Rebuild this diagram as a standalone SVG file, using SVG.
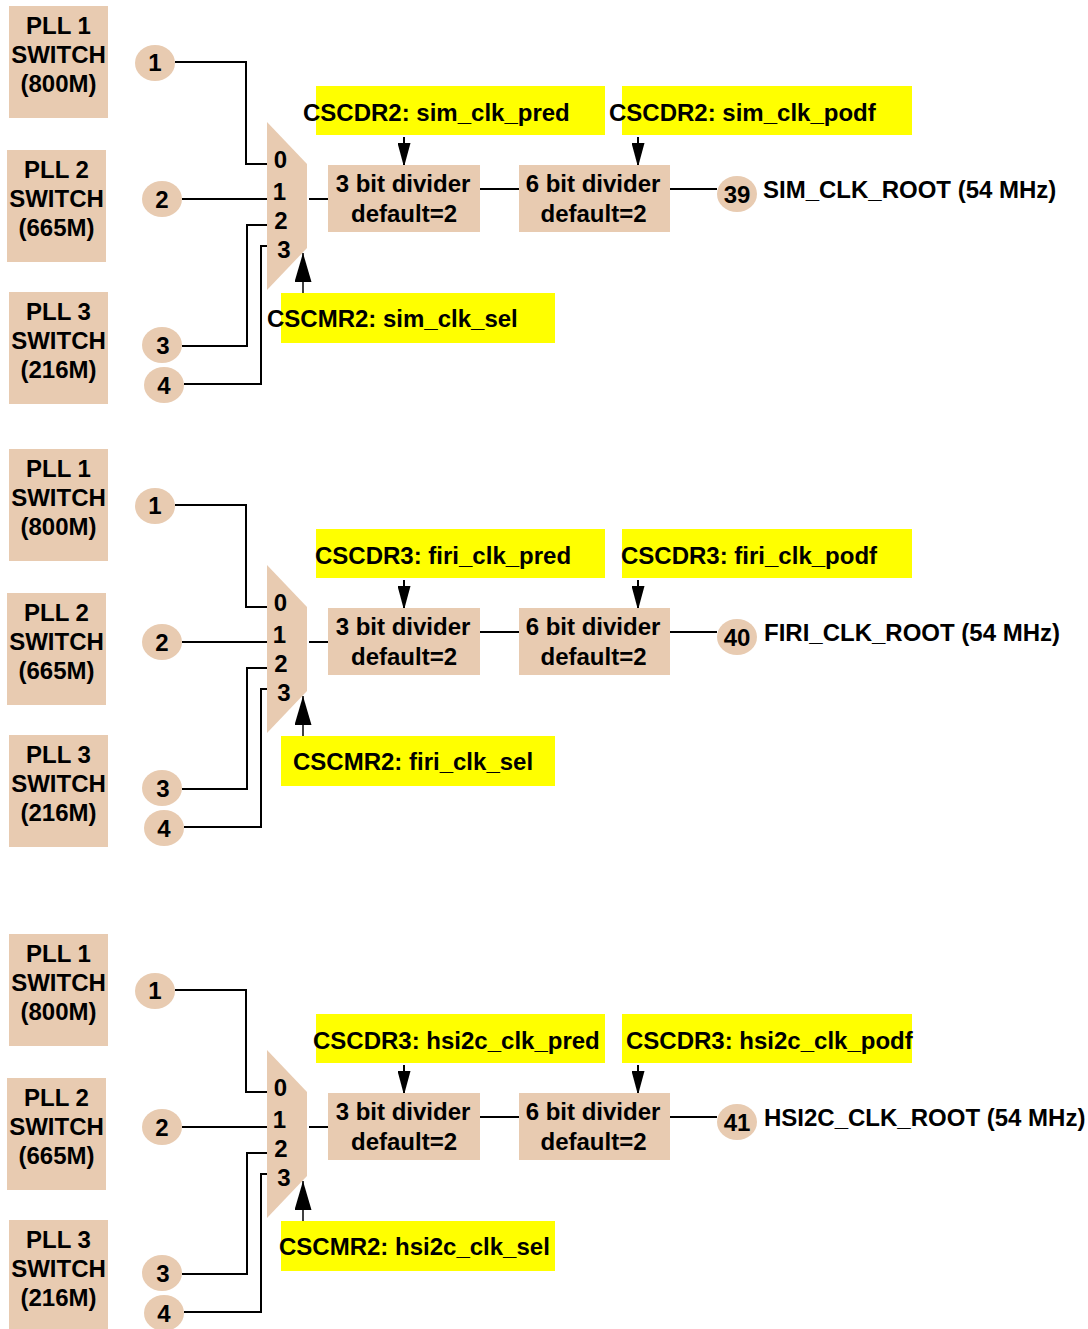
<svg xmlns="http://www.w3.org/2000/svg" width="1088" height="1329" viewBox="0 0 1088 1329">
<style>
.box{fill:#E8CBB1}
.hl{fill:#FFFF00}
text{font-family:"Liberation Sans",Arial,Helvetica,sans-serif;font-weight:bold;font-size:24px;fill:#000}
.c{text-anchor:middle}
.w{fill:none;stroke:#000;stroke-width:2}
.t{fill:none;stroke:#000;stroke-width:1.5}
</style>
<defs>
<marker id="ah" markerUnits="userSpaceOnUse" viewBox="0 0 24 13" refX="24" refY="6.5" markerWidth="24" markerHeight="13" orient="auto"><path d="M0,0 L24,6.5 L0,13 z" fill="#000"/></marker>
<marker id="ahL" markerUnits="userSpaceOnUse" viewBox="0 0 29 17" refX="29" refY="8.5" markerWidth="29" markerHeight="17" orient="auto"><path d="M0,0 L29,8.5 L0,17 z" fill="#000"/></marker>
</defs>

<g id="connectors">
<g id="conn-s1">
<path class="w" d="M175,62 H246 V164 H267"/>
<path class="w" d="M182,199 H267"/>
<path class="w" d="M182,346 H247 V225 H267"/>
<path class="w" d="M184,384 H261 V246 H267"/>
<path class="w" d="M309,199 H328"/>
<path class="w" d="M480,189 H519"/>
<path class="w" d="M670,189 H717"/>
<path class="w" d="M404,137 V167" marker-end="url(#ah)"/>
<path class="w" d="M638,137 V167" marker-end="url(#ah)"/>
<path class="t" d="M303,293 V253" marker-end="url(#ahL)"/>
</g>
<g id="conn-s2" transform="translate(0,443)">
<path class="w" d="M175,62 H246 V164 H267"/>
<path class="w" d="M182,199 H267"/>
<path class="w" d="M182,346 H247 V225 H267"/>
<path class="w" d="M184,384 H261 V246 H267"/>
<path class="w" d="M309,199 H328"/>
<path class="w" d="M480,189 H519"/>
<path class="w" d="M670,189 H717"/>
<path class="w" d="M404,137 V167" marker-end="url(#ah)"/>
<path class="w" d="M638,137 V167" marker-end="url(#ah)"/>
<path class="t" d="M303,293 V253" marker-end="url(#ahL)"/>
</g>
<g id="conn-s3" transform="translate(0,928)">
<path class="w" d="M175,62 H246 V164 H267"/>
<path class="w" d="M182,199 H267"/>
<path class="w" d="M182,346 H247 V225 H267"/>
<path class="w" d="M184,384 H261 V246 H267"/>
<path class="w" d="M309,199 H328"/>
<path class="w" d="M480,189 H519"/>
<path class="w" d="M670,189 H717"/>
<path class="w" d="M404,137 V167" marker-end="url(#ah)"/>
<path class="w" d="M638,137 V167" marker-end="url(#ah)"/>
<path class="t" d="M303,293 V253" marker-end="url(#ahL)"/>
</g>
</g>

<g id="sec1">
<g id="s1-pll1"><rect class="box" x="9" y="6" width="99" height="112"/><text class="c" x="58.5" y="34">PLL 1</text><text class="c" x="58.5" y="63">SWITCH</text><text class="c" x="58.5" y="92">(800M)</text></g>
<g id="s1-pll2"><rect class="box" x="7" y="150" width="99" height="112"/><text class="c" x="56.5" y="178">PLL 2</text><text class="c" x="56.5" y="207">SWITCH</text><text class="c" x="56.5" y="236">(665M)</text></g>
<g id="s1-pll3"><rect class="box" x="9" y="292" width="99" height="112"/><text class="c" x="58.5" y="320">PLL 3</text><text class="c" x="58.5" y="349">SWITCH</text><text class="c" x="58.5" y="378">(216M)</text></g>
<g id="s1-in1"><ellipse class="box" cx="155" cy="63" rx="20" ry="18"/><text class="c" x="155" y="71">1</text></g>
<g id="s1-in2"><ellipse class="box" cx="162" cy="199" rx="20" ry="18"/><text class="c" x="162" y="207.5">2</text></g>
<g id="s1-in3"><ellipse class="box" cx="162" cy="345" rx="20" ry="18"/><text class="c" x="163" y="353.5">3</text></g>
<g id="s1-in4"><ellipse class="box" cx="164" cy="385" rx="20" ry="18"/><text class="c" x="164" y="393.5">4</text></g>
<g id="s1-mux"><polygon class="box" points="267,122 307,164 307,248 267,290"/><text class="c" x="280.5" y="168">0</text><text class="c" x="279.5" y="200">1</text><text class="c" x="281" y="229">2</text><text class="c" x="284" y="258">3</text></g>
<g id="s1-div3"><rect class="box" x="328" y="165" width="152" height="67"/><text class="c" x="403" y="192">3 bit divider</text><text class="c" x="404" y="222">default=2</text></g>
<g id="s1-div6"><rect class="box" x="519" y="165" width="151" height="67"/><text class="c" x="593" y="192">6 bit divider</text><text class="c" x="593.5" y="222">default=2</text></g>
<g id="s1-pred"><rect class="hl" x="316" y="86" width="289" height="49"/><text x="303" y="121">CSCDR2: sim_clk_pred</text></g>
<g id="s1-podf"><rect class="hl" x="622" y="86" width="290" height="49"/><text x="609" y="121">CSCDR2: sim_clk_podf</text></g>
<g id="s1-sel"><rect class="hl" x="281" y="293" width="274" height="50"/><text x="267" y="327">CSCMR2: sim_clk_sel</text></g>
<g id="s1-out"><ellipse class="box" cx="737" cy="194" rx="20" ry="18"/><text class="c" x="737" y="203">39</text><text x="763" y="198">SIM_CLK_ROOT (54 MHz)</text></g>
</g>

<g id="sec2" transform="translate(0,443)">
<g id="s2-pll1"><rect class="box" x="9" y="6" width="99" height="112"/><text class="c" x="58.5" y="34">PLL 1</text><text class="c" x="58.5" y="63">SWITCH</text><text class="c" x="58.5" y="92">(800M)</text></g>
<g id="s2-pll2"><rect class="box" x="7" y="150" width="99" height="112"/><text class="c" x="56.5" y="178">PLL 2</text><text class="c" x="56.5" y="207">SWITCH</text><text class="c" x="56.5" y="236">(665M)</text></g>
<g id="s2-pll3"><rect class="box" x="9" y="292" width="99" height="112"/><text class="c" x="58.5" y="320">PLL 3</text><text class="c" x="58.5" y="349">SWITCH</text><text class="c" x="58.5" y="378">(216M)</text></g>
<g id="s2-in1"><ellipse class="box" cx="155" cy="63" rx="20" ry="18"/><text class="c" x="155" y="71">1</text></g>
<g id="s2-in2"><ellipse class="box" cx="162" cy="199" rx="20" ry="18"/><text class="c" x="162" y="207.5">2</text></g>
<g id="s2-in3"><ellipse class="box" cx="162" cy="345" rx="20" ry="18"/><text class="c" x="163" y="353.5">3</text></g>
<g id="s2-in4"><ellipse class="box" cx="164" cy="385" rx="20" ry="18"/><text class="c" x="164" y="393.5">4</text></g>
<g id="s2-mux"><polygon class="box" points="267,122 307,164 307,248 267,290"/><text class="c" x="280.5" y="168">0</text><text class="c" x="279.5" y="200">1</text><text class="c" x="281" y="229">2</text><text class="c" x="284" y="258">3</text></g>
<g id="s2-div3"><rect class="box" x="328" y="165" width="152" height="67"/><text class="c" x="403" y="192">3 bit divider</text><text class="c" x="404" y="222">default=2</text></g>
<g id="s2-div6"><rect class="box" x="519" y="165" width="151" height="67"/><text class="c" x="593" y="192">6 bit divider</text><text class="c" x="593.5" y="222">default=2</text></g>
<g id="s2-pred"><rect class="hl" x="316" y="86" width="289" height="49"/><text x="315" y="121">CSCDR3: firi_clk_pred</text></g>
<g id="s2-podf"><rect class="hl" x="622" y="86" width="290" height="49"/><text x="621" y="121">CSCDR3: firi_clk_podf</text></g>
<g id="s2-sel"><rect class="hl" x="281" y="293" width="274" height="50"/><text x="293" y="327">CSCMR2: firi_clk_sel</text></g>
<g id="s2-out"><ellipse class="box" cx="737" cy="194" rx="20" ry="18"/><text class="c" x="737" y="203">40</text><text x="764" y="198">FIRI_CLK_ROOT (54 MHz)</text></g>
</g>

<g id="sec3" transform="translate(0,928)">
<g id="s3-pll1"><rect class="box" x="9" y="6" width="99" height="112"/><text class="c" x="58.5" y="34">PLL 1</text><text class="c" x="58.5" y="63">SWITCH</text><text class="c" x="58.5" y="92">(800M)</text></g>
<g id="s3-pll2"><rect class="box" x="7" y="150" width="99" height="112"/><text class="c" x="56.5" y="178">PLL 2</text><text class="c" x="56.5" y="207">SWITCH</text><text class="c" x="56.5" y="236">(665M)</text></g>
<g id="s3-pll3"><rect class="box" x="9" y="292" width="99" height="112"/><text class="c" x="58.5" y="320">PLL 3</text><text class="c" x="58.5" y="349">SWITCH</text><text class="c" x="58.5" y="378">(216M)</text></g>
<g id="s3-in1"><ellipse class="box" cx="155" cy="63" rx="20" ry="18"/><text class="c" x="155" y="71">1</text></g>
<g id="s3-in2"><ellipse class="box" cx="162" cy="199" rx="20" ry="18"/><text class="c" x="162" y="207.5">2</text></g>
<g id="s3-in3"><ellipse class="box" cx="162" cy="345" rx="20" ry="18"/><text class="c" x="163" y="353.5">3</text></g>
<g id="s3-in4"><ellipse class="box" cx="164" cy="385" rx="20" ry="18"/><text class="c" x="164" y="393.5">4</text></g>
<g id="s3-mux"><polygon class="box" points="267,122 307,164 307,248 267,290"/><text class="c" x="280.5" y="168">0</text><text class="c" x="279.5" y="200">1</text><text class="c" x="281" y="229">2</text><text class="c" x="284" y="258">3</text></g>
<g id="s3-div3"><rect class="box" x="328" y="165" width="152" height="67"/><text class="c" x="403" y="192">3 bit divider</text><text class="c" x="404" y="222">default=2</text></g>
<g id="s3-div6"><rect class="box" x="519" y="165" width="151" height="67"/><text class="c" x="593" y="192">6 bit divider</text><text class="c" x="593.5" y="222">default=2</text></g>
<g id="s3-pred"><rect class="hl" x="316" y="86" width="289" height="49"/><text x="313" y="121">CSCDR3: hsi2c_clk_pred</text></g>
<g id="s3-podf"><rect class="hl" x="622" y="86" width="290" height="49"/><text x="626" y="121">CSCDR3: hsi2c_clk_podf</text></g>
<g id="s3-sel"><rect class="hl" x="281" y="293" width="274" height="50"/><text x="279" y="327">CSCMR2: hsi2c_clk_sel</text></g>
<g id="s3-out"><ellipse class="box" cx="737" cy="194" rx="20" ry="18"/><text class="c" x="737" y="203">41</text><text x="764" y="198">HSI2C_CLK_ROOT (54 MHz)</text></g>
</g>
</svg>
